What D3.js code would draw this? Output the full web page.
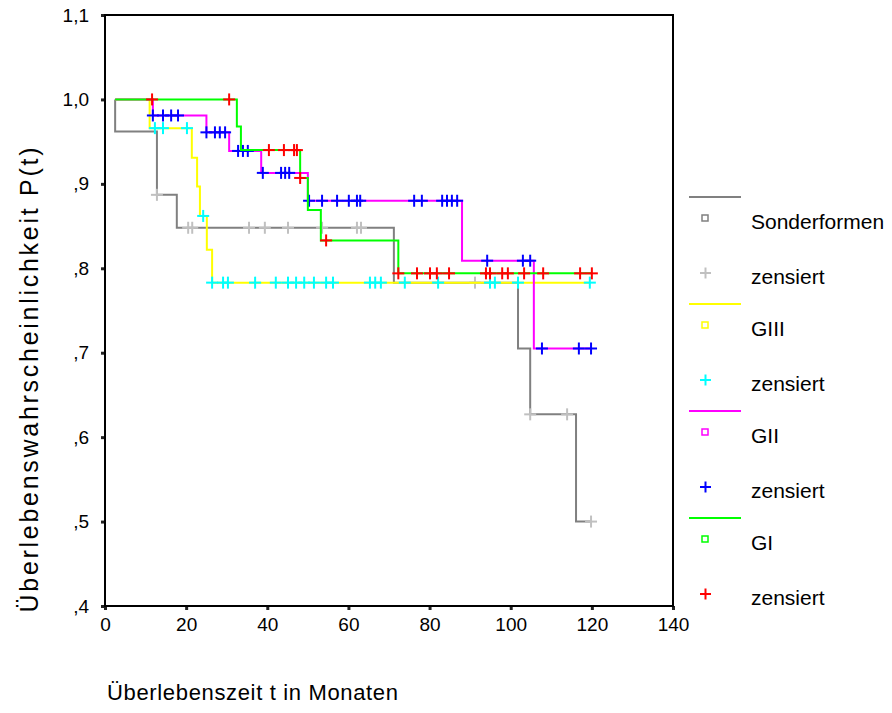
<!DOCTYPE html>
<html>
<head>
<meta charset="utf-8">
<script src="https://cdn.jsdelivr.net/npm/d3@7"></script>
<style>
  body { margin: 0; background: #fff; }
  text { font-family: "Liberation Sans", Arial, sans-serif; fill: #000; }
</style>
</head>
<body>
<script>
// groups as in the SPSS legend (drawing order)
const groups = ['Sonderformen', 'GIII', 'GII', 'GI'];
const lineColors = ['#808080', '#ffff00', '#ff00ff', '#00ff00'];
const censorColors = ['#c0c0c0', '#00ffff', '#0000ff', '#ff0000'];
const startTime = 2.5;

// [month, survival after that event]
const stepsSonder = [[2.5, 0.962], [12.8, 0.887], [17.7, 0.848], [71.2, 0.783], [101.8, 0.705], [104.8, 0.627], [116.1, 0.5]];
const stepsG3 = [[11, 0.966], [21.4, 0.931], [22.7, 0.897], [23.4, 0.862], [25.1, 0.822], [26.4, 0.783]];
const stepsG2 = [[11.8, 0.981], [25.0, 0.961], [30.6, 0.939], [38.5, 0.913], [50, 0.880], [88, 0.809], [105.7, 0.705]];
const stepsG1 = [[32.5, 0.968], [33.5, 0.940], [48.1, 0.907], [50, 0.869], [53.2, 0.833], [72.3, 0.794]];

// censored cases (months)
const censSonder = [12.8, 20.5, 21.5, 35.5, 39.4, 45.1, 53.5, 62.1, 63.1, 91.2, 104.8, 113.9, 119.8];
const censG3 = [12.3, 14.3, 20.2, 24.2, 26.4, 29.1, 30.3, 37.0, 42.1, 45.1, 47.1, 49.1, 51.5, 54.5, 56.2,
                65.3, 66.6, 68.0, 73.9, 82.1, 94.9, 96.1, 101.8, 119.5];
const censG2 = [11.8, 14.3, 16.3, 18.0, 25.0, 27.1, 28.3, 29.6, 32.8, 34.0, 35.2, 38.9, 43.4, 44.4, 45.4,
                50.3, 53.5, 57.2, 60.1, 62.1, 62.9, 76.2, 78.1, 83.1, 84.3, 85.5, 86.8, 94.2, 103.0, 104.8,
                107.7, 116.8, 119.8];
const censG1 = [11.6, 30.6, 40.4, 44.1, 46.6, 47.3, 48.1, 54.5, 72.3, 76.9, 80.1, 81.8, 84.8, 93.9, 94.9,
                97.9, 99.3, 103.3, 108.0, 117.1, 120.0];

const allSteps = [stepsSonder, stepsG3, stepsG2, stepsG1];
const allCens = [censSonder, censG3, censG2, censG1];

const xTicks = [0, 20, 40, 60, 80, 100, 120, 140];
const yTicks = [0.4, 0.5, 0.6, 0.7, 0.8, 0.9, 1.0, 1.1];
const yTickLabels = [',4', ',5', ',6', ',7', ',8', ',9', '1,0', '1,1'];

const W = 892, H = 713;
const plot = { left: 105, top: 15, right: 673, bottom: 606 };

const svg = d3.select('body').append('svg')
    .attr('width', W)
    .attr('height', H);

const x = d3.scaleLinear().domain([0, 140]).range([plot.left, plot.right]);
const y = d3.scaleLinear().domain([0.4, 1.1]).range([plot.bottom, plot.top]);

// survival value at time t (last step at or before t)
function survivalAt(steps, t) {
    let s = 1.0;
    steps.forEach(d => { if (d[0] <= t + 1e-9) s = d[1]; });
    return s;
}

// axes - only the small square tick marks, frame drawn separately
const xAxis = svg.append('g')
    .attr('transform', `translate(0,${plot.bottom})`)
    .call(d3.axisBottom(x).tickValues(xTicks).tickSize(4).tickPadding(8).tickFormat(d3.format('d')));
const yAxis = svg.append('g')
    .attr('transform', `translate(${plot.left},0)`)
    .call(d3.axisLeft(y).tickValues(yTicks).tickSize(4).tickPadding(12).tickFormat((d, i) => yTickLabels[i]));

[xAxis, yAxis].forEach(a => {
    a.select('.domain').remove();
    a.selectAll('.tick line').attr('stroke', '#222').attr('stroke-width', 3);
    a.selectAll('.tick text')
        .style('font-family', '"Liberation Sans", Arial, sans-serif')
        .style('font-size', '19px')
        .attr('fill', '#000');
});

svg.append('rect')
    .attr('x', plot.left)
    .attr('y', plot.top)
    .attr('width', plot.right - plot.left)
    .attr('height', plot.bottom - plot.top)
    .attr('fill', 'none')
    .attr('stroke', '#000')
    .attr('stroke-width', 2);

// curves + censor marks
const half = 6;
groups.forEach((g, gi) => {
    const steps = allSteps[gi];
    const cens = allCens[gi];
    const endTime = Math.max(d3.max(cens), steps[steps.length - 1][0]);

    let pts = [[startTime, 1.0]];
    steps.forEach(d => pts.push([d[0], d[1]]));
    pts.push([endTime, steps[steps.length - 1][1]]);

    const line = d3.line()
        .x(d => x(d[0]))
        .y(d => y(d[1]))
        .curve(d3.curveStepAfter);

    svg.append('path')
        .datum(pts)
        .attr('d', line)
        .attr('fill', 'none')
        .attr('stroke', lineColors[gi])
        .attr('stroke-width', 2);

    const marks = svg.append('g').attr('stroke', censorColors[gi]).attr('stroke-width', 2);
    cens.forEach(t => {
        const cx = x(t), cy = y(survivalAt(steps, t));
        marks.append('line').attr('x1', cx - half).attr('x2', cx + half).attr('y1', cy).attr('y2', cy);
        marks.append('line').attr('x1', cx).attr('x2', cx).attr('y1', cy - half).attr('y2', cy + half);
    });
});

// legend
const legendTop = 197, legendGap = 107;
groups.forEach((g, gi) => {
    const ly = legendTop + gi * legendGap;
    svg.append('line')
        .attr('x1', 689).attr('x2', 741).attr('y1', ly).attr('y2', ly)
        .attr('stroke', lineColors[gi]).attr('stroke-width', 2);
    svg.append('rect')
        .attr('x', 702).attr('y', ly + 18).attr('width', 6).attr('height', 6)
        .attr('fill', '#fff').attr('stroke', lineColors[gi]).attr('stroke-width', 1.5);
    svg.append('text')
        .attr('x', 751).attr('y', ly + 32)
        .style('font-size', '21px')
        .text(g);

    const py = ly + 76;
    const m = svg.append('g').attr('stroke', censorColors[gi]).attr('stroke-width', 2);
    m.append('line').attr('x1', 700).attr('x2', 711).attr('y1', py).attr('y2', py);
    m.append('line').attr('x1', 705.5).attr('x2', 705.5).attr('y1', py - 5.5).attr('y2', py + 5.5);
    svg.append('text')
        .attr('x', 751).attr('y', py + 11)
        .style('font-size', '21px')
        .text('zensiert');
});

// axis titles
svg.append('text')
    .attr('x', 107).attr('y', 700)
    .style('font-size', '22px')
    .attr('textLength', 291)
    .attr('lengthAdjust', 'spacing')
    .text('Überlebenszeit t in Monaten');

svg.append('text')
    .attr('transform', 'translate(38,380) rotate(-90)')
    .attr('text-anchor', 'middle')
    .style('font-size', '25px')
    .attr('textLength', 465)
    .attr('lengthAdjust', 'spacing')
    .text('Überlebenswahrscheinlichkeit P(t)');
</script>
</body>
</html>
